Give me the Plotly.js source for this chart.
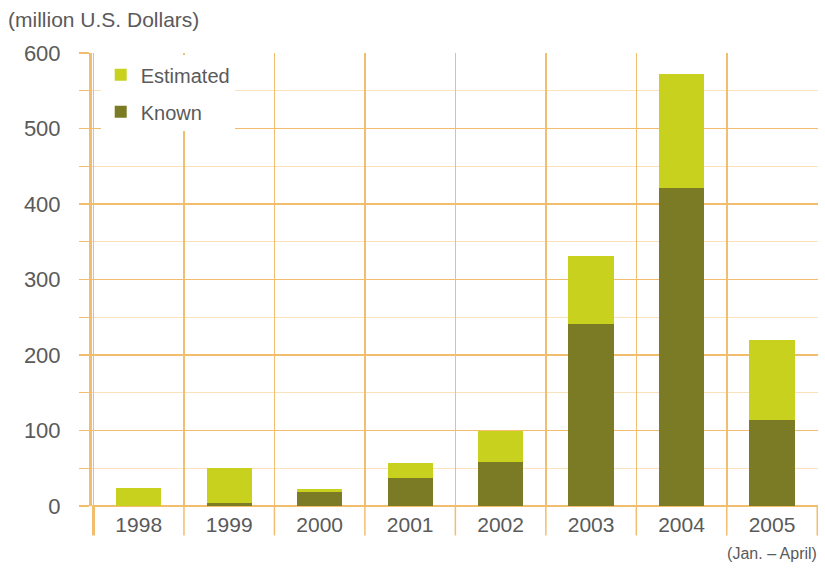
<!DOCTYPE html>
<html>
<head>
<meta charset="utf-8">
<script src="https://cdn.plot.ly/plotly-3.0.1.min.js"></script>
<style>html,body{margin:0;padding:0;background:#fff;}#chart{width:825px;height:570px;}</style>
</head>
<body>
<div id="chart"></div>
<script>
const categories = ["1998", "1999", "2000", "2001", "2002", "2003", "2004", "2005"];
const tickLabels = ["1998", "1999", "2000", "2001", "2002", "2003", "2004", "2005<br><span style='font-size:16px'>(Jan. \u2013 April)</span>"];
const knownValues = [0, 4, 18, 37, 58, 241, 421, 114];
const estimatedValues = [24, 46, 4, 20, 42, 90, 151, 106];

const orange = "#f3bd6e";
const orangeLight = "#fbe2bd";
const textColor = "#5a5a5a";

const traces = [
  {type: "bar", name: "Known", legendgroup: "k", legendrank: 2, x: categories, y: knownValues, marker: {color: "#7b7a25"}, width: 0.5},
  {type: "bar", name: "Estimated", legendgroup: "e", legendrank: 1, x: categories, y: estimatedValues, marker: {color: "#c9d11f"}, width: 0.5}
];

// category boundary lines extending below the zero line
const boundaryShapes = categories.concat([""]).map((c, i) => ({
  type: "line", xref: "x", yref: "paper", x0: i - 0.5, x1: i - 0.5, y0: 0, y1: -0.065,
  line: {color: orange, width: i === 0 ? 3 : 1.5}, layer: "below"
}));

const layout = {
  width: 825, height: 570,
  margin: {l: 92, r: 7, t: 53, b: 64},
  paper_bgcolor: "#ffffff", plot_bgcolor: "#ffffff",
  barmode: "stack",
  font: {family: "Liberation Sans, Arial, sans-serif", color: textColor, size: 20},
  showlegend: true,
  legend: {x: 0.012, y: 0.995, xanchor: "left", yanchor: "top", traceorder: "grouped",
           bgcolor: "#ffffff", font: {size: 20, color: textColor}, tracegroupgap: 8, itemwidth: 30},
  xaxis: {type: "category", tickvals: categories, ticktext: tickLabels, tickson: "boundaries",
          showgrid: true, gridcolor: orange, gridwidth: 1.5,
          ticks: "", ticklabelstandoff: 4, tickangle: 0, automargin: false,
          showline: false, zeroline: false, tickfont: {size: 21, color: textColor}, fixedrange: true},
  yaxis: {range: [0, 600], dtick: 100, showgrid: true, gridcolor: orange, gridwidth: 1.2,
          minor: {dtick: 50, showgrid: true, gridcolor: orangeLight, gridwidth: 1, ticks: "outside", ticklen: 10, tickcolor: orange},
          ticks: "outside", ticklen: 10, tickcolor: orange, tickwidth: 1.2, ticklabelstandoff: 14,
          showline: true, linecolor: orange, linewidth: 3,
          zeroline: true, zerolinecolor: orange, zerolinewidth: 2.5, automargin: false,
          tickfont: {size: 22, color: textColor}, fixedrange: true},
  shapes: boundaryShapes,
  annotations: [{text: "(million U.S. Dollars)", xref: "paper", yref: "paper", x: -0.118, y: 1.073,
                 xanchor: "left", yanchor: "middle", showarrow: false, font: {size: 21, color: textColor}}]
};

Plotly.newPlot("chart", traces, layout, {displayModeBar: false, staticPlot: true});
</script>
</body>
</html>
